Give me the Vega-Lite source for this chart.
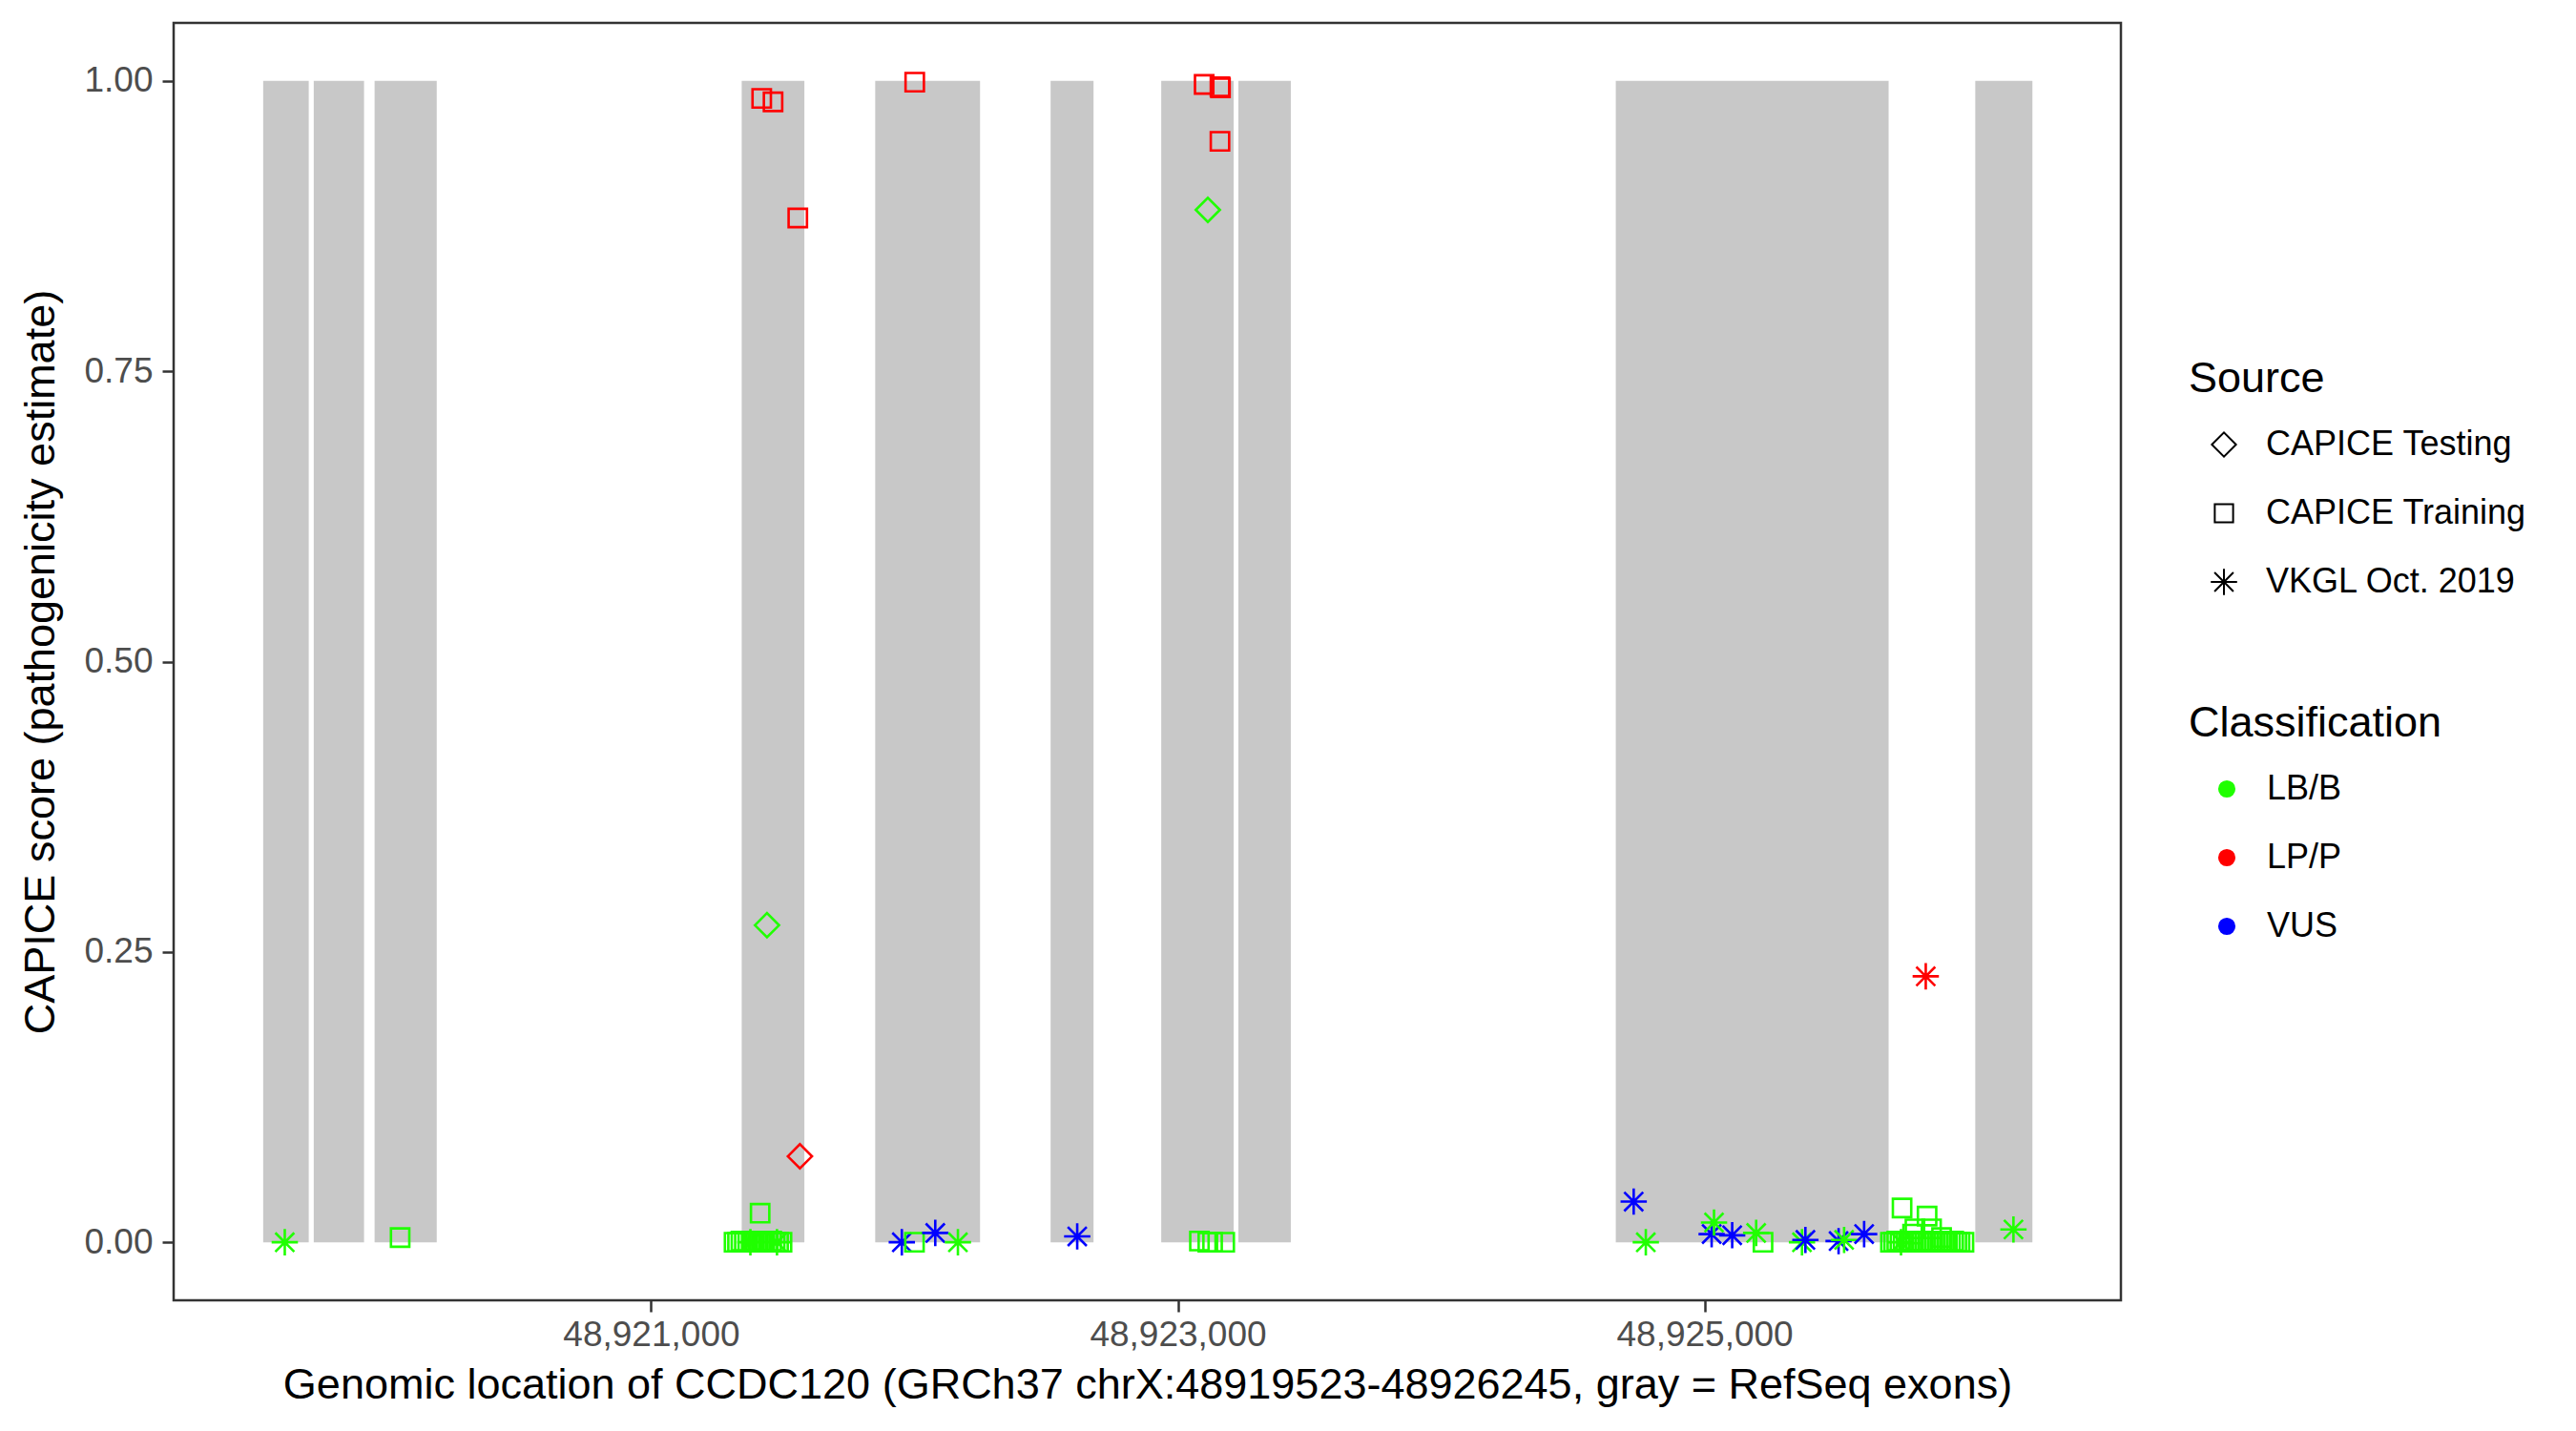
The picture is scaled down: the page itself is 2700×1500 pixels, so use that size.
{
  "$schema": "https://vega.github.io/schema/vega-lite/v6.json",
  "width": 2041,
  "height": 1339,
  "autosize": "none",
  "padding": {"left": 182, "top": 24, "right": 477, "bottom": 137},
  "background": "white",
  "datasets": {
    "exons": [
      {"start": 48919527, "end": 48919700},
      {"start": 48919719, "end": 48919910},
      {"start": 48919950, "end": 48920186},
      {"start": 48921344, "end": 48921582},
      {"start": 48921851, "end": 48922249},
      {"start": 48922517, "end": 48922680},
      {"start": 48922937, "end": 48923212},
      {"start": 48923230, "end": 48923429},
      {"start": 48924663, "end": 48925699},
      {"start": 48926028, "end": 48926245}
    ],
    "variants": [
      {"position": 48919609, "score": 0.0, "Source": "VKGL Oct. 2019", "Classification": "LB/B"},
      {"position": 48920047, "score": 0.004, "Source": "CAPICE Training", "Classification": "LB/B"},
      {"position": 48921414, "score": 0.025, "Source": "CAPICE Training", "Classification": "LB/B"},
      {"position": 48921315, "score": 0.0, "Source": "CAPICE Training", "Classification": "LB/B"},
      {"position": 48921328, "score": 0.0, "Source": "CAPICE Training", "Classification": "LB/B"},
      {"position": 48921341, "score": 0.001, "Source": "CAPICE Training", "Classification": "LB/B"},
      {"position": 48921354, "score": 0.0, "Source": "CAPICE Training", "Classification": "LB/B"},
      {"position": 48921367, "score": 0.0, "Source": "CAPICE Training", "Classification": "LB/B"},
      {"position": 48921380, "score": 0.001, "Source": "CAPICE Training", "Classification": "LB/B"},
      {"position": 48921393, "score": 0.0, "Source": "CAPICE Training", "Classification": "LB/B"},
      {"position": 48921406, "score": 0.0, "Source": "CAPICE Training", "Classification": "LB/B"},
      {"position": 48921419, "score": 0.001, "Source": "CAPICE Training", "Classification": "LB/B"},
      {"position": 48921432, "score": 0.0, "Source": "CAPICE Training", "Classification": "LB/B"},
      {"position": 48921445, "score": 0.0, "Source": "CAPICE Training", "Classification": "LB/B"},
      {"position": 48921458, "score": 0.001, "Source": "CAPICE Training", "Classification": "LB/B"},
      {"position": 48921471, "score": 0.0, "Source": "CAPICE Training", "Classification": "LB/B"},
      {"position": 48921484, "score": 0.0, "Source": "CAPICE Training", "Classification": "LB/B"},
      {"position": 48921497, "score": 0.0, "Source": "CAPICE Training", "Classification": "LB/B"},
      {"position": 48921377, "score": 0.0, "Source": "VKGL Oct. 2019", "Classification": "LB/B"},
      {"position": 48921478, "score": 0.0, "Source": "VKGL Oct. 2019", "Classification": "LB/B"},
      {"position": 48921420, "score": 0.985, "Source": "CAPICE Training", "Classification": "LP/P"},
      {"position": 48921463, "score": 0.982, "Source": "CAPICE Training", "Classification": "LP/P"},
      {"position": 48921557, "score": 0.882, "Source": "CAPICE Training", "Classification": "LP/P"},
      {"position": 48921440, "score": 0.273, "Source": "CAPICE Testing", "Classification": "LB/B"},
      {"position": 48921565, "score": 0.074, "Source": "CAPICE Testing", "Classification": "LP/P"},
      {"position": 48921952, "score": 0.0, "Source": "VKGL Oct. 2019", "Classification": "VUS"},
      {"position": 48922000, "score": 0.0, "Source": "CAPICE Training", "Classification": "LB/B"},
      {"position": 48922079, "score": 0.008, "Source": "VKGL Oct. 2019", "Classification": "VUS"},
      {"position": 48922165, "score": 0.0, "Source": "VKGL Oct. 2019", "Classification": "LB/B"},
      {"position": 48922001, "score": 0.999, "Source": "CAPICE Training", "Classification": "LP/P"},
      {"position": 48922618, "score": 0.005, "Source": "VKGL Oct. 2019", "Classification": "VUS"},
      {"position": 48923082, "score": 0.001, "Source": "CAPICE Training", "Classification": "LB/B"},
      {"position": 48923114, "score": 0.0, "Source": "CAPICE Training", "Classification": "LB/B"},
      {"position": 48923132, "score": 0.0, "Source": "CAPICE Training", "Classification": "LB/B"},
      {"position": 48923178, "score": 0.0, "Source": "CAPICE Training", "Classification": "LB/B"},
      {"position": 48923100, "score": 0.997, "Source": "CAPICE Training", "Classification": "LP/P"},
      {"position": 48923160, "score": 0.995, "Source": "CAPICE Training", "Classification": "LP/P"},
      {"position": 48923162, "score": 0.994, "Source": "CAPICE Training", "Classification": "LP/P"},
      {"position": 48923160, "score": 0.948, "Source": "CAPICE Training", "Classification": "LP/P"},
      {"position": 48923114, "score": 0.889, "Source": "CAPICE Testing", "Classification": "LB/B"},
      {"position": 48924731, "score": 0.035, "Source": "VKGL Oct. 2019", "Classification": "VUS"},
      {"position": 48924777, "score": 0.0, "Source": "VKGL Oct. 2019", "Classification": "LB/B"},
      {"position": 48925027, "score": 0.007, "Source": "VKGL Oct. 2019", "Classification": "VUS"},
      {"position": 48925036, "score": 0.017, "Source": "VKGL Oct. 2019", "Classification": "LB/B"},
      {"position": 48925105, "score": 0.006, "Source": "VKGL Oct. 2019", "Classification": "VUS"},
      {"position": 48925196, "score": 0.008, "Source": "VKGL Oct. 2019", "Classification": "LB/B"},
      {"position": 48925222, "score": 0.0, "Source": "CAPICE Training", "Classification": "LB/B"},
      {"position": 48925370, "score": 0.0, "Source": "VKGL Oct. 2019", "Classification": "LB/B"},
      {"position": 48925383, "score": 0.002, "Source": "VKGL Oct. 2019", "Classification": "VUS"},
      {"position": 48925509, "score": 0.001, "Source": "VKGL Oct. 2019", "Classification": "VUS"},
      {"position": 48925530, "score": 0.002, "Source": "VKGL Oct. 2019", "Classification": "LB/B"},
      {"position": 48925606, "score": 0.007, "Source": "VKGL Oct. 2019", "Classification": "VUS"},
      {"position": 48925706, "score": 0.0, "Source": "CAPICE Training", "Classification": "LB/B"},
      {"position": 48925718, "score": 0.0, "Source": "CAPICE Training", "Classification": "LB/B"},
      {"position": 48925730, "score": 0.001, "Source": "CAPICE Training", "Classification": "LB/B"},
      {"position": 48925742, "score": 0.0, "Source": "CAPICE Training", "Classification": "LB/B"},
      {"position": 48925754, "score": 0.0, "Source": "CAPICE Training", "Classification": "LB/B"},
      {"position": 48925766, "score": 0.001, "Source": "CAPICE Training", "Classification": "LB/B"},
      {"position": 48925778, "score": 0.0, "Source": "CAPICE Training", "Classification": "LB/B"},
      {"position": 48925790, "score": 0.0, "Source": "CAPICE Training", "Classification": "LB/B"},
      {"position": 48925802, "score": 0.001, "Source": "CAPICE Training", "Classification": "LB/B"},
      {"position": 48925814, "score": 0.0, "Source": "CAPICE Training", "Classification": "LB/B"},
      {"position": 48925826, "score": 0.0, "Source": "CAPICE Training", "Classification": "LB/B"},
      {"position": 48925838, "score": 0.001, "Source": "CAPICE Training", "Classification": "LB/B"},
      {"position": 48925850, "score": 0.0, "Source": "CAPICE Training", "Classification": "LB/B"},
      {"position": 48925862, "score": 0.0, "Source": "CAPICE Training", "Classification": "LB/B"},
      {"position": 48925874, "score": 0.001, "Source": "CAPICE Training", "Classification": "LB/B"},
      {"position": 48925886, "score": 0.0, "Source": "CAPICE Training", "Classification": "LB/B"},
      {"position": 48925898, "score": 0.0, "Source": "CAPICE Training", "Classification": "LB/B"},
      {"position": 48925910, "score": 0.001, "Source": "CAPICE Training", "Classification": "LB/B"},
      {"position": 48925922, "score": 0.0, "Source": "CAPICE Training", "Classification": "LB/B"},
      {"position": 48925934, "score": 0.0, "Source": "CAPICE Training", "Classification": "LB/B"},
      {"position": 48925946, "score": 0.001, "Source": "CAPICE Training", "Classification": "LB/B"},
      {"position": 48925958, "score": 0.0, "Source": "CAPICE Training", "Classification": "LB/B"},
      {"position": 48925970, "score": 0.0, "Source": "CAPICE Training", "Classification": "LB/B"},
      {"position": 48925985, "score": 0.0, "Source": "CAPICE Training", "Classification": "LB/B"},
      {"position": 48925750, "score": 0.0295, "Source": "CAPICE Training", "Classification": "LB/B"},
      {"position": 48925845, "score": 0.0225, "Source": "CAPICE Training", "Classification": "LB/B"},
      {"position": 48925799, "score": 0.0115, "Source": "CAPICE Training", "Classification": "LB/B"},
      {"position": 48925862, "score": 0.0115, "Source": "CAPICE Training", "Classification": "LB/B"},
      {"position": 48925790, "score": 0.007, "Source": "CAPICE Training", "Classification": "LB/B"},
      {"position": 48925900, "score": 0.004, "Source": "CAPICE Training", "Classification": "LB/B"},
      {"position": 48925746, "score": 0.0, "Source": "VKGL Oct. 2019", "Classification": "LB/B"},
      {"position": 48925840, "score": 0.229, "Source": "VKGL Oct. 2019", "Classification": "LP/P"},
      {"position": 48926173, "score": 0.011, "Source": "VKGL Oct. 2019", "Classification": "LB/B"}
    ]
  },
  "layer": [
    {
      "data": {"name": "exons"},
      "mark": {"type": "rect", "color": "#C8C8C8"},
      "encoding": {
        "x": {
          "field": "start",
          "type": "quantitative",
          "scale": {"domain": [48919187, 48926581], "nice": false, "zero": false},
          "axis": {
            "title": "Genomic location of CCDC120 (GRCh37 chrX:48919523-48926245, gray = RefSeq exons)",
            "values": [48921000, 48923000, 48925000],
            "format": ",d",
            "labelPadding": 6,
            "titlePadding": 12
          }
        },
        "x2": {"field": "end"},
        "y": {
          "datum": 0,
          "type": "quantitative",
          "scale": {"domain": [-0.05, 1.05], "nice": false, "zero": false},
          "axis": {
            "title": "CAPICE score (pathogenicity estimate)",
            "values": [0, 0.25, 0.5, 0.75, 1],
            "format": ".2f",
            "labelPadding": 10,
            "titlePadding": 22
          }
        },
        "y2": {"datum": 1}
      }
    },
    {
      "data": {"name": "variants"},
      "mark": {"type": "point", "filled": false, "strokeWidth": 2.6, "opacity": 1, "fillOpacity": 0},
      "encoding": {
        "x": {"field": "position", "type": "quantitative"},
        "y": {"field": "score", "type": "quantitative"},
        "shape": {
          "field": "Source",
          "type": "nominal",
          "scale": {
            "domain": ["CAPICE Testing", "CAPICE Training", "VKGL Oct. 2019"],
            "range": ["diamond", "square", "M-1,0L1,0M0,-1L0,1M-0.72,-0.72L0.72,0.72M-0.72,0.72L0.72,-0.72"]
          },
          "legend": {
            "title": "Source",
            "orient": "none",
            "legendX": 2112,
            "legendY": 351,
            "symbolOffset": 19,
            "labelOffset": 26,
            "rowPadding": 36,
            "titlePadding": 28
          }
        },
        "size": {
          "field": "Source",
          "type": "nominal",
          "scale": {
            "type": "ordinal",
            "domain": ["CAPICE Testing", "CAPICE Training", "VKGL Oct. 2019"],
            "range": [640, 370, 760]
          },
          "legend": {
            "title": "Source",
            "orient": "none",
            "legendX": 2112,
            "legendY": 351,
            "symbolOffset": 19,
            "labelOffset": 26,
            "rowPadding": 36,
            "titlePadding": 28
          }
        },
        "stroke": {
          "field": "Classification",
          "type": "nominal",
          "scale": {"domain": ["LB/B", "LP/P", "VUS"], "range": ["#20FF00", "#FF0000", "#0000FF"]},
          "legend": {
            "title": "Classification",
            "orient": "none",
            "legendX": 2112,
            "legendY": 712,
            "symbolType": "circle",
            "symbolSize": 260,
            "symbolOffset": 22,
            "labelOffset": 24,
            "rowPadding": 36,
            "titlePadding": 28
          }
        },
        "fill": {
          "field": "Classification",
          "type": "nominal",
          "scale": {"domain": ["LB/B", "LP/P", "VUS"], "range": ["#20FF00", "#FF0000", "#0000FF"]},
          "legend": {
            "title": "Classification",
            "orient": "none",
            "legendX": 2112,
            "legendY": 712,
            "symbolType": "circle",
            "symbolSize": 260,
            "symbolOffset": 22,
            "labelOffset": 24,
            "rowPadding": 36,
            "titlePadding": 28
          }
        }
      }
    }
  ],
  "config": {
    "font": "Liberation Sans",
    "view": {"stroke": "#333333", "strokeWidth": 2.5},
    "axis": {
      "domain": false,
      "grid": false,
      "tickColor": "#333333",
      "tickWidth": 2.5,
      "tickSize": 12,
      "labelFont": "Liberation Sans",
      "labelFontSize": 37,
      "labelColor": "#4D4D4D",
      "labelFlush": false,
      "labelOverlap": false,
      "labelLimit": 0,
      "titleLimit": 0,
      "titleFont": "Liberation Sans",
      "titleFontSize": 45,
      "titleFontWeight": "normal",
      "titleColor": "#000000"
    },
    "legend": {
      "titleFont": "Liberation Sans",
      "titleFontSize": 45,
      "titleFontWeight": "normal",
      "titleColor": "#000000",
      "titleLimit": 0,
      "labelFont": "Liberation Sans",
      "labelFontSize": 36,
      "labelColor": "#000000",
      "labelLimit": 0,
      "symbolBaseStrokeColor": "#000000",
      "symbolBaseFillColor": "transparent",
      "symbolStrokeWidth": 2,
      "padding": 0
    }
  }
}
